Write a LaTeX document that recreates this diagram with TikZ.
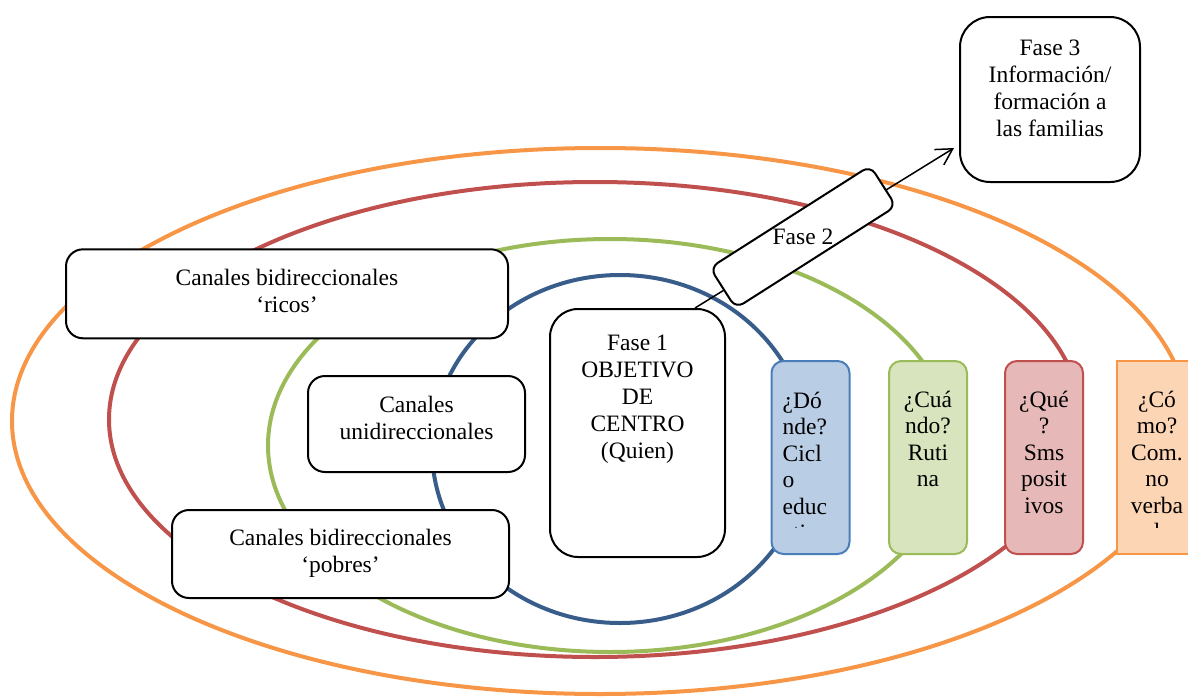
\documentclass[tikz,border=0pt]{standalone}
\usepackage{fontspec}
\setmainfont{Liberation Serif}
\usepackage{graphicx}
\usetikzlibrary{arrows.meta,calc}
\definecolor{elBlue}{RGB}{56,93,138}
\definecolor{elGreen}{RGB}{155,187,89}
\definecolor{elRed}{RGB}{192,80,77}
\definecolor{elOrange}{RGB}{247,150,70}
\definecolor{fBlue}{RGB}{185,205,229}
\definecolor{bBlue}{RGB}{74,126,187}
\definecolor{fGreen}{RGB}{215,228,189}
\definecolor{fRed}{RGB}{230,185,184}
\definecolor{fOrange}{RGB}{252,213,181}
\newcommand\ws{\rule[-6.5pt]{0pt}{26.5pt}}
\newcommand\fl[1]{\rule[-6.5pt]{0pt}{\dimexpr#1+6.5pt\relax}}
\begin{document}
\begin{tikzpicture}[x=1pt,y=-1pt,
  ring/.style={line width=4pt},
  wbox/.style={draw=black, line width=2pt, fill=white, rounded corners=#1,
    inner sep=0pt, font=\fontsize{23.5}{27}\selectfont},
  cbox/.style={line width=2pt, rounded corners=12pt, inner sep=0pt,
    minimum width=78pt, minimum height=193pt},
  ctext/.style={inner sep=0pt, font=\fontsize{23.5}{26.5}\selectfont},
  arr/.style={line width=1.5pt, -{Straight Barb[length=16pt,width=18pt]}}
]
\useasboundingbox (0,0) rectangle (1188,696);

% rings
\draw[ring, elOrange] (600,421) ellipse [x radius=588, y radius=273];
\draw[ring, elRed] (595,419.5) ellipse [x radius=486, y radius=237.5];
\draw[ring, elGreen] (610,445.5) ellipse [x radius=342, y radius=206.5];
\draw[ring, elBlue] (620,449) ellipse [x radius=188, y radius=174];

% white boxes
\node[wbox=17pt] (ricos) at (287,293.8)
  {\parbox[c][89pt][t]{442pt}{\centering\fl{36.4pt}Canales bidireccionales\\\ws ‘ricos’}};
\node[wbox=17pt] (uni) at (416.5,424)
  {\parbox[c][96pt][t]{217pt}{\centering\fl{36.7pt}Canales\\\ws unidireccionales}};
\node[wbox=17pt] (pobres) at (340.5,554)
  {\parbox[c][88pt][t]{337pt}{\centering\fl{35.7pt}Canales bidireccionales\\\ws ‘pobres’}};
\node[wbox=28pt] (f1) at (637.5,433)
  {\parbox[c][248pt][t]{175pt}{\centering\fl{41pt}Fase 1\\\ws OBJETIVO\\\ws DE\\\ws CENTRO\\\ws (Quien)}};
\node[wbox=30pt] (f3) at (1050,99.5)
  {\parbox[c][165pt][t]{180pt}{\centering\fl{38pt}Fase 3\\\ws Información/\\\ws formación a\\\ws las familias}};

% coloured boxes
\node[cbox, fill=fBlue, draw=bBlue] (donde) at (810.5,457.5) {};
\node[cbox, fill=fGreen, draw=elGreen] (cuando) at (928,457.5) {};
\node[cbox, fill=fRed, draw=elRed] (que) at (1044,457.5) {};
\node[cbox, fill=fOrange, draw=elOrange, rounded corners=0pt, minimum width=80pt] (como) at (1157,457.5) {};

\begin{scope}
\clip (donde.north west) rectangle ($(donde.south east)+(0,-28)$);
\node[ctext, anchor=north west] (dondeT) at ([xshift=12pt]donde.north west)
  {\parbox[t]{64pt}{\raggedright\fl{48pt}¿Dó\\\ws nde?\\\ws Cicl\\\ws o\\\ws educ\\\ws ativ}};
\end{scope}
\begin{scope}
\clip (cuando.north west) rectangle ($(cuando.south east)+(0,-28)$);
\node[ctext, anchor=north] (cuandoT) at (cuando.north)
  {\parbox[t]{78pt}{\centering\fl{47pt}¿Cuá\\\ws ndo?\\\ws Ruti\\\ws na}};
\end{scope}
\begin{scope}
\clip (que.north west) rectangle ($(que.south east)+(0,-28)$);
\node[ctext, anchor=north] (queT) at (que.north)
  {\parbox[t]{78pt}{\centering\fl{47pt}¿Qué\\\ws ?\\\ws Sms\\\ws posit\\\ws ivos}};
\end{scope}
\begin{scope}
\clip (como.north west) rectangle ($(como.south east)+(0,-28)$);
\node[ctext, anchor=north] (comoT) at (como.north)
  {\parbox[t]{80pt}{\centering\fl{47pt}¿Có\\\ws mo?\\\ws Com.\\\ws no\\\ws verba\\\ws l}};
\end{scope}

% arrow from phase 1 to phase 3
\draw[arr] ([xshift=57.5pt]f1.north) -- ([xshift=-5pt,yshift=35pt]f3.south west);

% phase 2 box
\node[draw=black, line width=2pt, fill=white, rounded corners=9pt, inner sep=0pt,
  minimum width=190pt, minimum height=48pt, rotate=32.5,
  font=\fontsize{23.5}{27}\selectfont] (f2) at (803,237) {\rotatebox{-32.5}{Fase 2}};
\end{tikzpicture}
\end{document}
